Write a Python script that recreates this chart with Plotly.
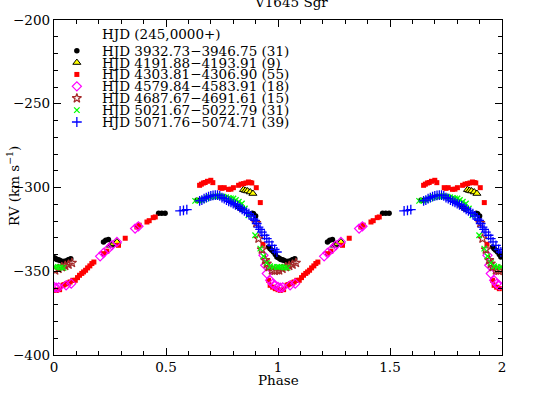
import plotly.graph_objects as go

# ---------------- data (phase in [0,1), RV in km/s) ----------------
black_phase = [0.817, 0.824, 0.831, 0.838, 0.885, 0.891, 0.900, 0.958, 0.965, 0.972, 0.980, 0.988, 0.995,
               0.002, 0.008, 0.013, 0.019, 0.025, 0.035, 0.047, 0.052, 0.058, 0.064, 0.069, 0.075,
               0.221, 0.231, 0.243, 0.467, 0.481, 0.496, 0.638, 0.652]
black_rv = [-311.0, -311.6, -312.6, -313.0, -315.4, -315.6, -317.0, -335.5, -336.5, -337.5, -338.5, -340.0, -341.5,
            -342.0, -342.5, -343.0, -343.2, -343.5, -344.0, -344.0, -344.2, -343.8, -343.2, -343.0, -342.5,
            -332.5, -331.5, -331.1, -315.4, -315.4, -315.4, -307.6, -307.6]

yellow_phase = [0.251, 0.259, 0.266, 0.281, 0.846, 0.855, 0.864, 0.876, 0.888]
yellow_rv = [-334.5, -334.0, -333.5, -332.5, -301.3, -301.8, -302.1, -302.7, -303.6]

red_phase = [0.958, 0.965, 0.976, 0.988, 0.000, 0.011, 0.025, 0.040, 0.045, 0.055, 0.065, 0.072, 0.084,
             0.095, 0.105, 0.114, 0.124, 0.132, 0.141, 0.150, 0.160, 0.169, 0.178, 0.221, 0.236,
             0.288, 0.318, 0.370, 0.380, 0.415, 0.425, 0.443, 0.452,
             0.650, 0.658, 0.667, 0.675, 0.685, 0.700, 0.709, 0.742, 0.750, 0.760, 0.779, 0.790,
             0.801, 0.824, 0.835, 0.846, 0.857, 0.868, 0.876, 0.883, 0.903, 0.921, 0.933]
red_rv = [-355.4, -358.4, -359.5, -360.4, -361.0, -361.4, -361.0, -358.4, -358.0, -357.5, -357.0, -356.4, -355.4,
          -355.4, -353.8, -352.4, -351.3, -350.4, -349.4, -348.0, -346.8, -345.4, -344.5, -339.5, -338.0,
          -334.5, -330.3, -323.6, -322.5, -320.6, -319.8, -318.0, -317.6,
          -298.7, -298.0, -297.3, -297.0, -296.3, -295.7, -297.1, -300.1, -300.5, -300.1, -301.1, -301.0,
          -300.1, -298.7, -298.0, -297.7, -297.3, -296.7, -297.0, -297.3, -300.1, -309.0, -333.9]

pink_phase = [0.935, 0.943, 0.950, 0.965, 0.976, 0.988, 0.000, 0.010, 0.021, 0.054, 0.077,
              0.206, 0.221, 0.243, 0.258, 0.281, 0.362, 0.377]
pink_rv = [-340.5, -346.4, -351.4, -355.4, -357.5, -358.4, -359.4, -359.8, -359.6, -358.4, -357.4,
           -341.1, -339.1, -336.5, -334.5, -332.5, -324.5, -323.2]

brown_phase = [0.903, 0.913, 0.928, 0.943, 0.950, 0.958, 0.973, 0.985, 0.995,
               0.005, 0.020, 0.035, 0.050, 0.065, 0.080]
brown_rv = [-321.2, -330.5, -337.0, -343.4, -345.5, -347.5, -349.4, -349.8, -349.4,
            -349.5, -348.5, -347.5, -346.8, -346.0, -345.0]

green_phase = [0.630, 0.645, 0.660, 0.672, 0.685, 0.697, 0.710, 0.722, 0.734, 0.746, 0.757, 0.768,
               0.780, 0.790, 0.801, 0.812, 0.825, 0.839, 0.852, 0.868, 0.898, 0.921, 0.935, 0.950,
               0.965, 0.980, 0.995, 0.005, 0.017, 0.030, 0.042]
green_rv = [-308.0, -307.8, -307.6, -307.0, -306.2, -305.7, -305.3, -305.2, -305.2, -305.3, -305.5, -305.8,
            -306.2, -306.5, -306.6, -307.5, -308.5, -309.6, -312.5, -316.6, -328.5, -336.5, -341.0, -345.0,
            -347.0, -347.5, -347.5, -347.5, -347.5, -347.8, -348.0]

blue_phase = [0.563, 0.578, 0.593, 0.650, 0.660, 0.670, 0.680, 0.690, 0.700, 0.710, 0.720, 0.730, 0.740,
              0.750, 0.760, 0.770, 0.780, 0.790, 0.800, 0.810, 0.820, 0.830, 0.840, 0.850, 0.860, 0.870,
              0.880, 0.890, 0.898, 0.905, 0.913, 0.920, 0.928, 0.940, 0.950, 0.960, 0.973, 0.985, 0.995]
blue_rv = [-314.0, -313.6, -313.2, -308.0, -307.5, -306.6, -306.0, -305.5, -305.0, -304.7, -304.5, -304.5, -305.0,
           -306.0, -306.6, -307.5, -308.2, -308.9, -309.6, -310.3, -311.0, -312.0, -313.0, -314.0, -314.8, -315.6,
           -317.0, -318.8, -319.6, -321.5, -323.6, -325.0, -326.6, -328.5, -330.5, -332.5, -334.5, -337.0, -338.5]

legend_title = "HJD (245,0000+)"
legend_labels = ["HJD 3932.73\u22123946.75 (31)", "HJD 4191.88\u22124193.91 (9)",
                 "HJD 4303.81\u22124306.90 (55)", "HJD 4579.84\u22124583.91 (18)",
                 "HJD 4687.67\u22124691.61 (15)", "HJD 5021.67\u22125022.79 (31)",
                 "HJD 5071.76\u22125074.71 (39)"]

# ---------------- styles ----------------
FONT = "DejaVu Serif"
FS = 13.5
styles = [
    dict(symbol="circle", size=5.5, color="black", line=dict(width=0)),
    dict(symbol="triangle-up", size=7, color="#ffff00", line=dict(color="black", width=1)),
    dict(symbol="square", size=5, color="#ff0000", line=dict(width=0)),
    dict(symbol="diamond-open", size=7, color="#ff00ff", line=dict(color="#ff00ff", width=1.2)),
    dict(symbol="star-open", size=7, color="#a52a2a", line=dict(color="#a52a2a", width=1.2)),
    dict(symbol="x-thin-open", size=5.5, color="#00ff00", line=dict(color="#00ff00", width=1.3)),
    dict(symbol="cross-thin-open", size=7, color="#0000ff", line=dict(color="#0000ff", width=1.3)),
]
series = [(black_phase, black_rv), (yellow_phase, yellow_rv), (red_phase, red_rv),
          (pink_phase, pink_rv), (brown_phase, brown_rv), (green_phase, green_rv),
          (blue_phase, blue_rv)]

fig = go.Figure()
for (ph, rv), st in zip(series, styles):
    xs = list(ph) + [p + 1 for p in ph]
    ys = list(rv) + list(rv)
    fig.add_trace(go.Scatter(x=xs, y=ys, mode="markers", marker=st,
                             showlegend=False, hoverinfo="skip", cliponaxis=True))

# manual legend (phase / RV positions inside the frame)
leg_sym_x = 0.102
leg_txt_x = 0.204
leg_y0 = -218.3
leg_dy = -7.1
for i, (lab, st) in enumerate(zip(legend_labels, styles)):
    yy = leg_y0 + i * leg_dy
    fig.add_trace(go.Scatter(x=[leg_sym_x], y=[yy], mode="markers", marker=st,
                             showlegend=False, hoverinfo="skip"))
    fig.add_annotation(x=leg_txt_x, y=yy, xref="x", yref="y", text=lab, showarrow=False,
                       xanchor="left", yanchor="middle", font=dict(family=FONT, size=FS, color="black"))
fig.add_annotation(x=leg_txt_x, y=-208.2, xref="x", yref="y", text=legend_title, showarrow=False,
                   xanchor="left", yanchor="middle", font=dict(family=FONT, size=FS, color="black"))

# titles
L, R, T, B = 54, 32, 20, 44
W, H = 534, 399
pw, ph_ = W - L - R, H - T - B
fig.add_annotation(xref="paper", yref="paper", x=(291 - L) / pw, y=1, yshift=8,
                   text="V1645 Sgr", showarrow=False, xanchor="center", yanchor="bottom",
                   font=dict(family=FONT, size=FS, color="black"))
fig.add_annotation(xref="paper", yref="paper", x=(13 - L) / pw, y=(H - B - 186) / ph_,
                   text="RV (km s<sup>\u22121</sup>)", textangle=-90, showarrow=False,
                   xanchor="center", yanchor="middle", font=dict(family=FONT, size=FS, color="black"))
fig.add_annotation(xref="paper", yref="paper", x=0.5, y=-(380 - (H - B)) / ph_,
                   text="Phase", showarrow=False, xanchor="center", yanchor="middle",
                   font=dict(family=FONT, size=FS, color="black"))

axis_common = dict(showgrid=False, zeroline=False, showline=True, linecolor="black", linewidth=1.3,
                   mirror="ticks", ticks="inside", tickcolor="black", tickwidth=1.2,
                   tickfont=dict(family=FONT, size=FS, color="black"))
fig.update_xaxes(range=[0, 2], dtick=0.5, tick0=0, ticklen=7,
                 minor=dict(dtick=0.1, ticks="inside", ticklen=3.5, tickcolor="black", tickwidth=1.2),
                 **axis_common)
fig.update_yaxes(range=[-400, -200], dtick=50, tick0=0, ticklen=7,
                 minor=dict(dtick=10, ticks="inside", ticklen=3.5, tickcolor="black", tickwidth=1.2),
                 **axis_common)

fig.update_layout(width=W, height=H, margin=dict(l=L, r=R, t=T, b=B),
                  paper_bgcolor="white", plot_bgcolor="white",
                  font=dict(family=FONT, size=FS, color="black"))

fig.write_html("out.html", config={"displayModeBar": False},
               post_script="document.body.style.margin='0px';")
